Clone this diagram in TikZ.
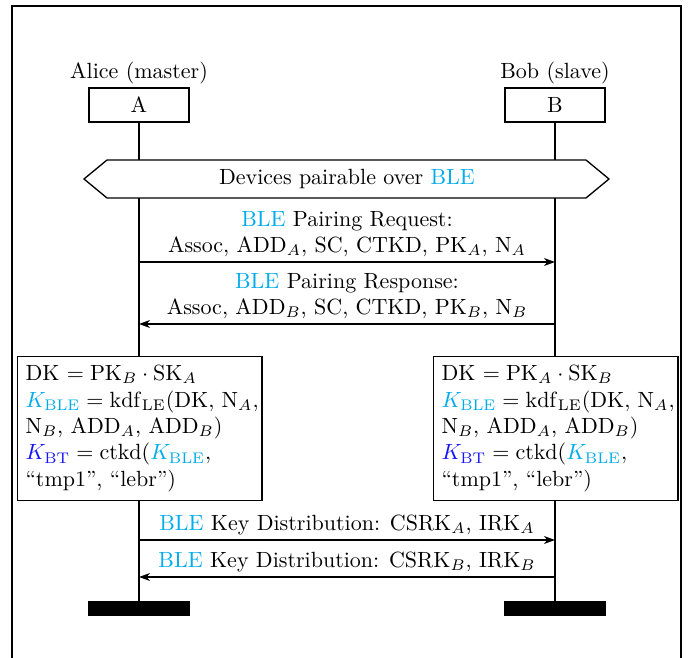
\documentclass[tikz,border=0pt]{standalone}
\usetikzlibrary{arrows.meta}
\definecolor{blecol}{RGB}{0,172,236}
\definecolor{btcol}{RGB}{20,20,255}
\newcommand{\BLE}{\textcolor{blecol}{BLE}}
\newcommand{\Kble}{\textcolor{blecol}{K_{\mathrm{BLE}}}}
\newcommand{\Kbt}{\textcolor{btcol}{K_{\mathrm{BT}}}}
\begin{document}
\begin{tikzpicture}[x=0.4545pt,y=-0.4545pt,line width=0.6pt,
  actor/.style={draw,fill=white,minimum width=45.45pt,minimum height=15.45pt,inner sep=0pt},
  endbar/.style={draw,fill=black,minimum width=45.45pt,minimum height=6.2pt,inner sep=0pt},
  keybox/.style={draw,fill=white,align=left,text width=103.8pt,inner sep=3.6pt,
    minimum height=65.5pt,anchor=north west},
  msg/.style={-{Stealth[length=5pt,width=3.6pt,inset=1.5pt]}},
  lbl/.style={above,align=center,inner sep=2pt}]
\useasboundingbox (0,0) rectangle (692,658);
% outer frame (continues below the page)
\draw[line width=0.75pt] (12,680) -- (12,6) -- (681,6) -- (681,680);

% participants
\node (alice) at (139,73) {Alice (master)};
\node (bob) at (555,73) {Bob (slave)};
\node[actor] (A) at (139,105) {A};
\node[actor] (B) at (555,105) {B};
\node[endbar] (endA) at (139,608.5) {};
\node[endbar] (endB) at (555,608.5) {};

% lifelines
\draw (A.south) -- (endA.north);
\draw (B.south) -- (endB.north);

% shared condition
\coordinate (hl) at (84,179);
\coordinate (htl) at (107,160);
\coordinate (htr) at (586,160);
\coordinate (hr) at (609,179);
\coordinate (hbr) at (586,198);
\coordinate (hbl) at (107,198);
\draw[fill=white] (hl) -- (htl) -- (htr) -- (hr) -- (hbr) -- (hbl) -- cycle;
\node (cond) at (347,179) {Devices pairable over \BLE};

% pairing exchange
\coordinate (a1) at (139,262); \coordinate (b1) at (555,262);
\coordinate (a2) at (139,324); \coordinate (b2) at (555,324);
\draw[msg] (a1) -- node[lbl] {\BLE{} Pairing Request:\\Assoc, ADD$_A$, SC, CTKD, PK$_A$, N$_A$} (b1);
\draw[msg] (b2) -- node[lbl] {\BLE{} Pairing Response:\\Assoc, ADD$_B$, SC, CTKD, PK$_B$, N$_B$} (a2);

% key derivation on each side
\node[keybox] (kA) at (17,356) {\mbox{DK $=\mathrm{PK}_B\cdot\mathrm{SK}_A$}\\
\mbox{$\Kble=\mathrm{kdf}_{\mathrm{LE}}(\mathrm{DK},\,\mathrm{N}_A,$}\\
\mbox{N$_B$, ADD$_A$, ADD$_B$)}\\
\mbox{$\Kbt=\mathrm{ctkd}(\Kble,$}\\
\mbox{``tmp1'', ``lebr'')}};
\node[keybox] (kB) at (433,356) {\mbox{DK $=\mathrm{PK}_A\cdot\mathrm{SK}_B$}\\
\mbox{$\Kble=\mathrm{kdf}_{\mathrm{LE}}(\mathrm{DK},\,\mathrm{N}_A,$}\\
\mbox{N$_B$, ADD$_A$, ADD$_B$)}\\
\mbox{$\Kbt=\mathrm{ctkd}(\Kble,$}\\
\mbox{``tmp1'', ``lebr'')}};

% key distribution
\coordinate (a3) at (139,540); \coordinate (b3) at (555,540);
\coordinate (a4) at (139,577); \coordinate (b4) at (555,577);
\draw[msg] (a3) -- node[lbl] {\BLE{} Key Distribution: CSRK$_A$, IRK$_A$} (b3);
\draw[msg] (b4) -- node[lbl] {\BLE{} Key Distribution: CSRK$_B$, IRK$_B$} (a4);
\end{tikzpicture}
\end{document}
